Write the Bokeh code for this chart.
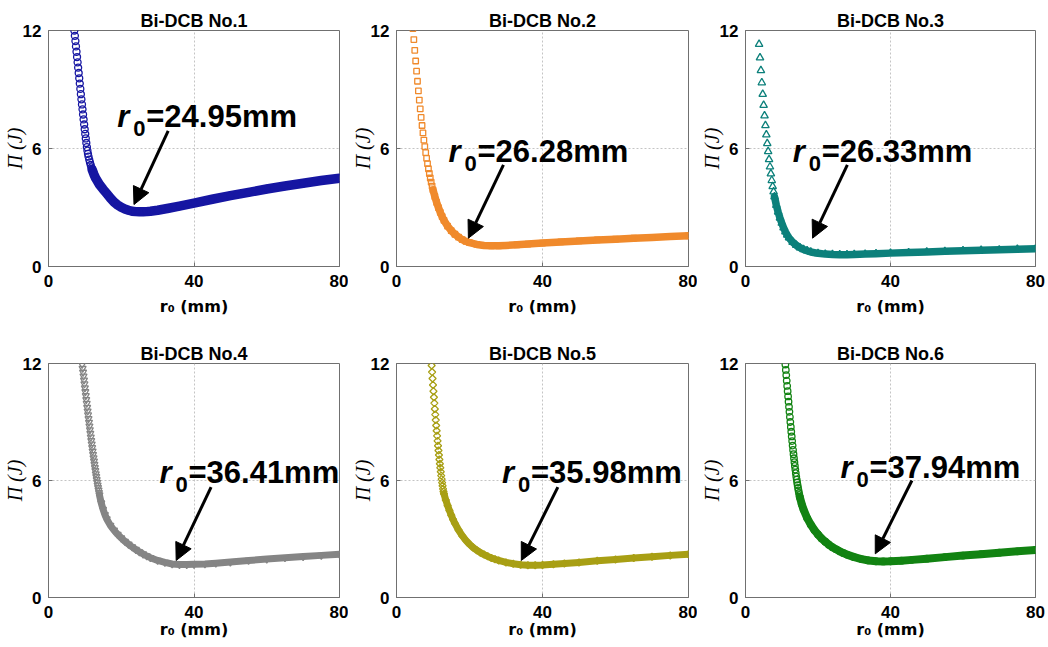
from math import pi
from bokeh.plotting import figure
from bokeh.layouts import column, row
from bokeh.models import Range1d, FixedTicker, Label, Arrow, NormalHead, Title
from bokeh.embed import file_html
from bokeh.resources import INLINE

# ---------------- data ----------------
titles = ["Bi-DCB No.1", "Bi-DCB No.2", "Bi-DCB No.3",
          "Bi-DCB No.4", "Bi-DCB No.5", "Bi-DCB No.6"]
r0_optimum = ["24.95", "26.28", "26.33", "36.41", "35.98", "37.94"]
x_ticks = [0, 40, 80]
y_ticks = [0, 6, 12]
x_label = "r\u2080 (mm)"
y_label = "\u03a0 (J)"

r0_no1 = [7.1, 7.25, 7.4, 7.55, 7.7, 7.85, 8.0, 8.15, 8.3, 8.45, 8.6, 8.75, 8.9, 9.05, 9.2, 9.35,
          9.5, 9.65, 9.8, 9.95, 10.1, 10.25, 10.4, 10.55, 10.7, 10.85, 11.0, 11.2, 11.4, 11.6, 11.8,
          12.0, 12.5, 13, 14, 15, 16, 17, 18, 19, 20, 21, 22,
          23, 24, 25, 26, 27, 28, 30, 33, 36, 40, 45, 50, 55, 60, 65, 70, 75, 80]
pi_no1 = [12.00, 11.73, 11.46, 11.19, 10.92, 10.65, 10.38, 10.11, 9.84, 9.57, 9.30, 9.03, 8.76, 8.50, 8.24, 7.99,
          7.73, 7.48, 7.22, 6.98, 6.74, 6.51, 6.28, 6.07, 5.89, 5.73, 5.59, 5.43, 5.29, 5.16, 5.04,
          4.93, 4.68, 4.48, 4.17, 3.93, 3.71, 3.48, 3.28, 3.13, 3.01, 2.92, 2.86,
          2.81, 2.79, 2.78, 2.78, 2.79, 2.81, 2.86, 2.96, 3.07, 3.22, 3.42, 3.60, 3.77, 3.94, 4.09, 4.23, 4.37, 4.49]

r0_no2 = [4.5, 4.75, 5.0, 5.25, 5.5, 5.75, 6.0, 6.25, 6.5, 6.75, 7.0, 7.25, 7.5, 7.75, 8.0, 8.25, 8.5,
          8.75, 9.0, 9.25, 9.5, 9.75, 10.0, 10.5, 11, 11.5, 12, 12.5, 13, 14, 15, 16, 17, 18, 19, 20,
          22, 24, 26, 28, 30, 33, 36, 40, 45, 50, 55, 60, 65, 70, 75, 80]
pi_no2 = [12.10, 11.54, 10.99, 10.45, 9.93, 9.42, 8.93, 8.46, 8.01, 7.58, 7.17, 6.79, 6.43, 6.10, 5.79, 5.50, 5.23,
          4.97, 4.73, 4.50, 4.29, 4.09, 3.90, 3.56, 3.26, 2.99, 2.75, 2.54, 2.35, 2.05, 1.82, 1.64, 1.49, 1.37, 1.28, 1.21,
          1.12, 1.07, 1.05, 1.05, 1.07, 1.10, 1.14, 1.19, 1.25, 1.30, 1.35, 1.39, 1.44, 1.48, 1.52, 1.56]

r0_no3 = [3.75, 4.0, 4.25, 4.5, 4.75, 5.0, 5.25, 5.5, 5.75, 6.0, 6.25, 6.5, 6.75, 7.0, 7.25, 7.5, 7.75, 8.0,
          8.5, 9, 9.5, 10, 10.5, 11, 11.5, 12, 13, 14, 15, 16, 17, 18,
          20, 22, 24, 26, 28, 30, 33, 36, 40, 45, 50, 55, 60, 65, 70, 75, 80]
pi_no3 = [11.30, 10.62, 9.97, 9.35, 8.76, 8.20, 7.67, 7.17, 6.70, 6.26, 5.85, 5.44, 5.07, 4.72, 4.38, 4.07, 3.80, 3.55,
          3.12, 2.77, 2.47, 2.21, 1.97, 1.77, 1.60, 1.46, 1.24, 1.08, 0.96, 0.87, 0.80, 0.74,
          0.67, 0.63, 0.61, 0.60, 0.60, 0.61, 0.63, 0.65, 0.68, 0.71, 0.74, 0.77, 0.80, 0.83, 0.85, 0.88, 0.90]

r0_no4 = [9.25, 9.375, 9.5, 9.625, 9.75, 9.875, 10.0, 10.125, 10.25, 10.375, 10.5, 10.625, 10.75, 10.875,
          11.0, 11.125, 11.25, 11.375, 11.5, 11.625, 11.75, 11.875, 12.0, 12.125, 12.25, 12.375, 12.5,
          12.625, 12.75, 12.875, 13.0, 13.125, 13.25, 13.375, 13.5, 13.625, 13.75, 13.875, 14.0,
          14.5, 15, 15.5, 16, 17, 18, 19, 20, 21, 22, 23, 24, 25, 26, 27, 28,
          30, 32, 34, 36, 38, 40, 43, 46, 50, 55, 60, 65, 70, 75, 80]
pi_no4 = [11.95, 11.75, 11.55, 11.35, 11.15, 10.95, 10.75, 10.55, 10.35, 10.15, 9.95, 9.75, 9.56, 9.36,
          9.17, 8.98, 8.79, 8.60, 8.41, 8.22, 8.04, 7.86, 7.68, 7.50, 7.33, 7.16, 6.99,
          6.82, 6.66, 6.50, 6.34, 6.19, 6.04, 5.90, 5.76, 5.63, 5.50, 5.38, 5.26,
          4.85, 4.52, 4.25, 4.03, 3.70, 3.45, 3.24, 3.05, 2.88, 2.73, 2.59, 2.46, 2.34, 2.23, 2.13, 2.04,
          1.90, 1.80, 1.72, 1.69, 1.69, 1.70, 1.72, 1.76, 1.82, 1.90, 1.97, 2.04, 2.10, 2.16, 2.22]

r0_no5 = [9.5, 9.625, 9.75, 9.875, 10.0, 10.125, 10.25, 10.375, 10.5, 10.625, 10.75, 10.875, 11.0, 11.125,
          11.25, 11.375, 11.5, 11.625, 11.75, 11.875, 12.0, 12.125, 12.25, 12.375, 12.5, 12.625, 12.75,
          12.875, 13.0, 13.5, 14, 14.5, 15, 15.5, 16, 17, 18, 19, 20, 21, 22, 23, 24, 25, 26, 27, 28,
          30, 32, 34, 36, 38, 40, 43, 46, 50, 55, 60, 65, 70, 75, 80]
pi_no5 = [12.25, 11.90, 11.56, 11.23, 10.90, 10.58, 10.27, 9.97, 9.67, 9.38, 9.10, 8.82, 8.55, 8.29,
          8.03, 7.78, 7.54, 7.31, 7.08, 6.86, 6.65, 6.45, 6.25, 6.07, 5.89, 5.73, 5.57,
          5.44, 5.32, 5.00, 4.72, 4.46, 4.22, 4.00, 3.80, 3.46, 3.17, 2.93, 2.73, 2.56, 2.42, 2.30, 2.20, 2.11, 2.03, 1.96, 1.90,
          1.80, 1.73, 1.68, 1.66, 1.66, 1.67, 1.70, 1.74, 1.80, 1.88, 1.95, 2.02, 2.09, 2.16, 2.22]

r0_no6 = [10.75, 10.875, 11.0, 11.125, 11.25, 11.375, 11.5, 11.625, 11.75, 11.875, 12.0, 12.125, 12.25,
          12.375, 12.5, 12.625, 12.75, 12.875, 13.0, 13.125, 13.25, 13.375, 13.5, 13.625, 13.75, 13.875,
          14.0, 14.125, 14.25, 14.375, 14.5, 14.625, 14.75, 14.875, 15.0, 15.5, 16, 17, 18, 19, 20, 21,
          22, 23, 24, 25, 26, 27, 28, 30, 32, 34, 36, 38, 40, 43, 46, 50, 55, 60, 65, 70, 75, 80]
pi_no6 = [12.50, 12.22, 11.95, 11.67, 11.40, 11.12, 10.85, 10.58, 10.31, 10.04, 9.78, 9.52, 9.26,
          9.00, 8.75, 8.50, 8.26, 8.02, 7.79, 7.57, 7.35, 7.14, 6.94, 6.75, 6.56, 6.38,
          6.21, 6.05, 5.90, 5.76, 5.62, 5.49, 5.37, 5.25, 5.14, 4.80, 4.52, 4.08, 3.74, 3.46, 3.23, 3.03,
          2.86, 2.71, 2.58, 2.47, 2.37, 2.28, 2.20, 2.07, 1.97, 1.90, 1.86, 1.85, 1.86, 1.89, 1.93, 1.99, 2.07, 2.15, 2.22, 2.30, 2.37, 2.44]

series = [(r0_no1, pi_no1), (r0_no2, pi_no2), (r0_no3, pi_no3),
          (r0_no4, pi_no4), (r0_no5, pi_no5), (r0_no6, pi_no6)]

# ---------------- styles / annotation placement ----------------
colors = ["#1616a2", "#f08a2c", "#0c807b", "#858585", "#a89f14", "#128312"]
markers = [("circle", 7, 0.0), ("square", 5.5, 0.0), ("triangle", 7.5, 0.0),
           ("inverted_triangle", 7, 0.0), ("square", 5, pi / 4), ("circle", 6.5, 0.0)]
band_from = [12.0, 10.0, 8.0, 14.0, 13.0, 15.0]
band_width = [9.5, 7.5, 7.5, 7, 7, 8]
text_anchor = [(18.9, 7.63), (14.25, 5.85), (13.0, 5.85), (30.5, 6.43), (28.9, 6.43), (26.2, 6.68)]
arrow_pos = [((32.9, 6.9), (23.5, 3.15)), ((29.3, 5.17), (19.7, 1.44)), ((28.1, 5.17), (18.5, 1.44)),
             ((44.7, 5.66), (35.1, 1.90)), ((44.2, 5.66), (34.2, 1.90)), ((45.9, 6.0), (35.8, 2.24))]

SANS = "Liberation Sans"
AXC = "#707070"

border_left = [46, 44, 44]
border_right = [9, 9, 10]
frame_w = [291, 292, 290]


def make_panel(i):
    r, c = divmod(i, 3)
    fh = 236 if r == 0 else 234
    p = figure(title=None, frame_width=frame_w[c], frame_height=fh,
               min_border_left=border_left[c], min_border_right=border_right[c],
               min_border_top=26, min_border_bottom=67 if r == 0 else 42,
               x_range=Range1d(0, 80), y_range=Range1d(0, 12),
               output_backend="svg", toolbar_location=None,
               background_fill_color="white", border_fill_color="white")
    # title (nearest the frame) and a small spacer above it
    p.add_layout(Title(text=titles[i], align="center", text_font=SANS, text_font_style="bold",
                       text_font_size="18px", text_color="black", standoff=0), "above")
    p.add_layout(Title(text=" ", text_font_size="5px", standoff=0), "above")

    p.outline_line_color = AXC
    p.outline_line_width = 1
    for ax, ticks in ((p.xaxis, x_ticks), (p.yaxis, y_ticks)):
        ax.ticker = FixedTicker(ticks=ticks)
        ax.axis_line_color = AXC
        ax.major_tick_line_color = AXC
        ax.major_tick_in = 4
        ax.major_tick_out = 0
        ax.minor_tick_line_color = None
        ax.major_label_text_font = SANS
        ax.major_label_text_font_style = "bold"
        ax.major_label_text_font_size = "17px"
        ax.major_label_text_color = "black"
    p.xaxis.major_label_standoff = 8
    p.yaxis.major_label_standoff = 7
    p.xaxis.axis_label = x_label
    p.xaxis.axis_label_text_font = "DejaVu Sans"
    p.xaxis.axis_label_text_font_style = "bold"
    p.xaxis.axis_label_text_font_size = "16px"
    p.xaxis.axis_label_text_color = "black"
    p.xaxis.axis_label_standoff = 7 if r == 0 else -1
    p.yaxis.axis_label = y_label
    p.yaxis.axis_label_text_font = "Liberation Serif"
    p.yaxis.axis_label_text_font_style = "italic"
    p.yaxis.axis_label_text_font_size = "20px"
    p.yaxis.axis_label_text_color = "black"
    p.yaxis.axis_label_standoff = -6
    p.xgrid.ticker = FixedTicker(ticks=[40])
    p.ygrid.ticker = FixedTicker(ticks=[6])
    for g in (p.xgrid, p.ygrid):
        g.grid_line_color = "#c4c4c4"
        g.grid_line_dash = "2 2"
        g.grid_line_width = 1

    xs, ys = series[i]
    col = colors[i]
    bx = [x for x in xs if x >= band_from[i]]
    by = [y for x, y in zip(xs, ys) if x >= band_from[i]]
    p.line(bx, by, line_color=col, line_width=band_width[i], line_join="round", line_cap="round")
    mk, sz, ang = markers[i]
    p.scatter(xs, ys, marker=mk, size=sz, angle=ang, line_color=col, fill_color=None, line_width=1.3)

    # annotation r0=xx.xxmm
    ax_, ay_ = text_anchor[i]
    p.add_layout(Label(x=ax_, y=ay_, text="r", text_font=SANS, text_font_style="bold italic",
                       text_font_size="31px", text_baseline="alphabetic", text_color="black"))
    p.add_layout(Label(x=ax_, y=ay_, x_offset=16, y_offset=-12, text="0", text_font=SANS,
                       text_font_style="bold", text_font_size="22px", text_baseline="alphabetic",
                       text_color="black"))
    p.add_layout(Label(x=ax_, y=ay_, x_offset=29, text="=" + r0_optimum[i] + "mm", text_font=SANS,
                       text_font_style="bold", text_font_size="31px", text_baseline="alphabetic",
                       text_color="black"))
    (x0, y0), (x1, y1) = arrow_pos[i]
    p.add_layout(Arrow(x_start=x0, y_start=y0, x_end=x1, y_end=y1, line_width=3, line_color="black",
                       end=NormalHead(size=17, fill_color="black", line_color="black", line_width=1)))
    return p


panels = [make_panel(i) for i in range(6)]
layout = column(row(*panels[:3]), row(*panels[3:]))
open("out.html", "w").write(file_html(layout, INLINE))
